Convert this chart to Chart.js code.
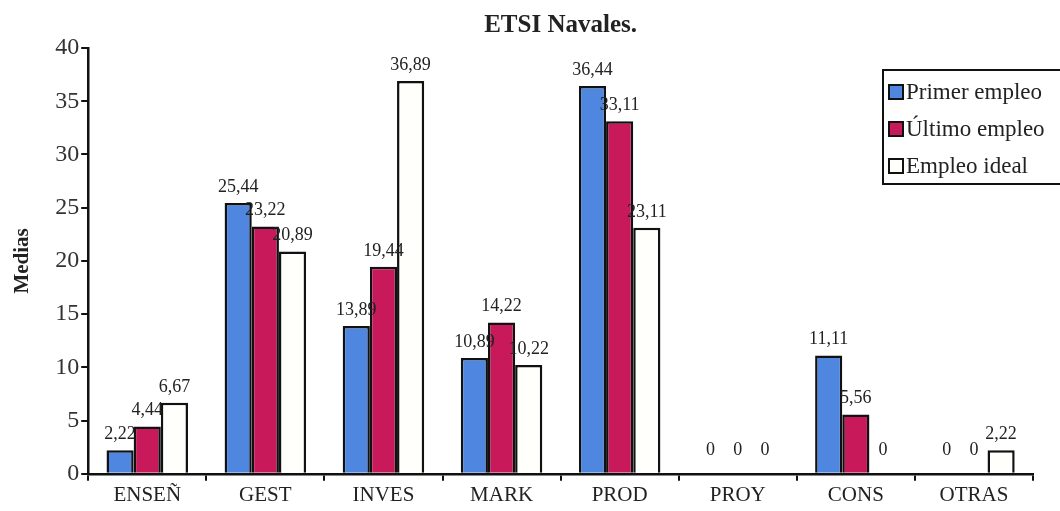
<!DOCTYPE html>
<html>
<head>
<meta charset="utf-8">
<script src="https://cdn.jsdelivr.net/npm/chart.js@4.4.0/dist/chart.umd.min.js"></script>
<style>
  html, body { margin: 0; padding: 0; background: #fff; }
  #wrap { width: 1060px; height: 511px; position: relative; }
</style>
</head>
<body>
<div id="wrap"><canvas id="c" width="1060" height="511"></canvas></div>
<script>
const categories = ['ENSEÑ', 'GEST', 'INVES', 'MARK', 'PROD', 'PROY', 'CONS', 'OTRAS'];
const primerEmpleo = [2.22, 25.44, 13.89, 10.89, 36.44, 0, 11.11, 0];
const ultimoEmpleo = [4.44, 23.22, 19.44, 14.22, 33.11, 0, 5.56, 0];
const empleoIdeal = [6.67, 20.89, 36.89, 10.22, 23.11, 0, 0, 2.22];
const seriesNames = ['Primer empleo', 'Último empleo', 'Empleo ideal'];
const yTicks = [0, 5, 10, 15, 20, 25, 30, 35, 40];
const chartTitle = 'ETSI Navales.';

const SERIF = '"Liberation Serif", "DejaVu Serif", serif';

const fmt = v => v === 0 ? '0' : v.toFixed(2).replace('.', ',');

const valueLabels = {
  id: 'valueLabels',
  afterDatasetsDraw(chart) {
    const ctx = chart.ctx;
    ctx.save();
    ctx.font = '18px ' + SERIF;
    ctx.fillStyle = '#222';
    ctx.textAlign = 'center';
    ctx.textBaseline = 'bottom';
    chart.data.datasets.forEach((ds, di) => {
      const meta = chart.getDatasetMeta(di);
      meta.data.forEach((bar, i) => {
        const v = ds.data[i];
        const y = v === 0 ? bar.y - 15 : bar.y - 7;
        ctx.fillText(fmt(v), bar.x, y);
      });
    });
    ctx.restore();
  }
};

const centeredTitle = {
  id: 'centeredTitle',
  afterDraw(chart) {
    const ctx = chart.ctx;
    const a = chart.chartArea;
    ctx.save();
    ctx.font = 'bold 25px ' + SERIF;
    ctx.fillStyle = '#222';
    ctx.textAlign = 'center';
    ctx.textBaseline = 'middle';
    ctx.fillText(chartTitle, (a.left + a.right) / 2, 26);
    ctx.restore();
  }
};

const boxLegend = {
  id: 'boxLegend',
  afterDraw(chart) {
    const ctx = chart.ctx;
    const left = 883, top = 70, w = 190, h = 114;
    ctx.save();
    ctx.fillStyle = '#fff';
    ctx.fillRect(left, top, w, h);
    ctx.strokeStyle = '#111';
    ctx.lineWidth = 2;
    ctx.strokeRect(left, top, w, h);
    ctx.font = '23px ' + SERIF;
    ctx.textBaseline = 'middle';
    ctx.textAlign = 'left';
    chart.data.datasets.forEach((ds, i) => {
      const cy = top + 22 + i * 37;
      ctx.fillStyle = ds.backgroundColor;
      ctx.fillRect(889, cy - 7, 14, 14);
      ctx.strokeStyle = '#111';
      ctx.lineWidth = 2;
      ctx.strokeRect(889, cy - 7, 14, 14);
      ctx.fillStyle = '#222';
      ctx.fillText(ds.label, 906, cy + 1);
    });
    ctx.restore();
  }
};

new Chart(document.getElementById('c'), {
  type: 'bar',
  data: {
    labels: categories,
    datasets: [
      { label: seriesNames[0], data: primerEmpleo, backgroundColor: '#4f86df', borderColor: '#111', borderWidth: 2.5 },
      { label: seriesNames[1], data: ultimoEmpleo, backgroundColor: '#c8195b', borderColor: '#111', borderWidth: 2.5 },
      { label: seriesNames[2], data: empleoIdeal, backgroundColor: '#fffffb', borderColor: '#111', borderWidth: 2.5 }
    ]
  },
  options: {
    responsive: false,
    animation: false,
    devicePixelRatio: 1,
    layout: { padding: { top: 48, right: 27, bottom: 1, left: 10 } },
    datasets: { bar: { categoryPercentage: 0.69, barPercentage: 1.0, borderSkipped: 'start' } },
    plugins: {
      legend: { display: false },
      tooltip: { enabled: false },
      title: { display: false }
    },
    scales: {
      x: {
        offset: true,
        grid: { display: true, offset: true, drawOnChartArea: false, drawTicks: true, tickLength: 7, color: '#111', lineWidth: 2 },
        border: { display: true, color: '#111', width: 2.5 },
        ticks: { color: '#222', font: { family: SERIF, size: 21 }, padding: 2 }
      },
      y: {
        min: 0,
        max: 40,
        afterBuildTicks(axis) { axis.ticks = yTicks.map(v => ({ value: v })); },
        grid: { display: true, drawOnChartArea: false, drawTicks: true, tickLength: 7, color: '#111', lineWidth: 2 },
        border: { display: true, color: '#111', width: 2.5 },
        ticks: { color: '#333', font: { family: SERIF, size: 24 }, padding: 2 },
        title: {
          display: true,
          text: 'Medias',
          color: '#222',
          font: { family: SERIF, size: 21, weight: 'bold' },
          padding: { top: 0, bottom: 18 }
        }
      }
    }
  },
  plugins: [valueLabels, centeredTitle, boxLegend]
});
</script>
</body>
</html>
